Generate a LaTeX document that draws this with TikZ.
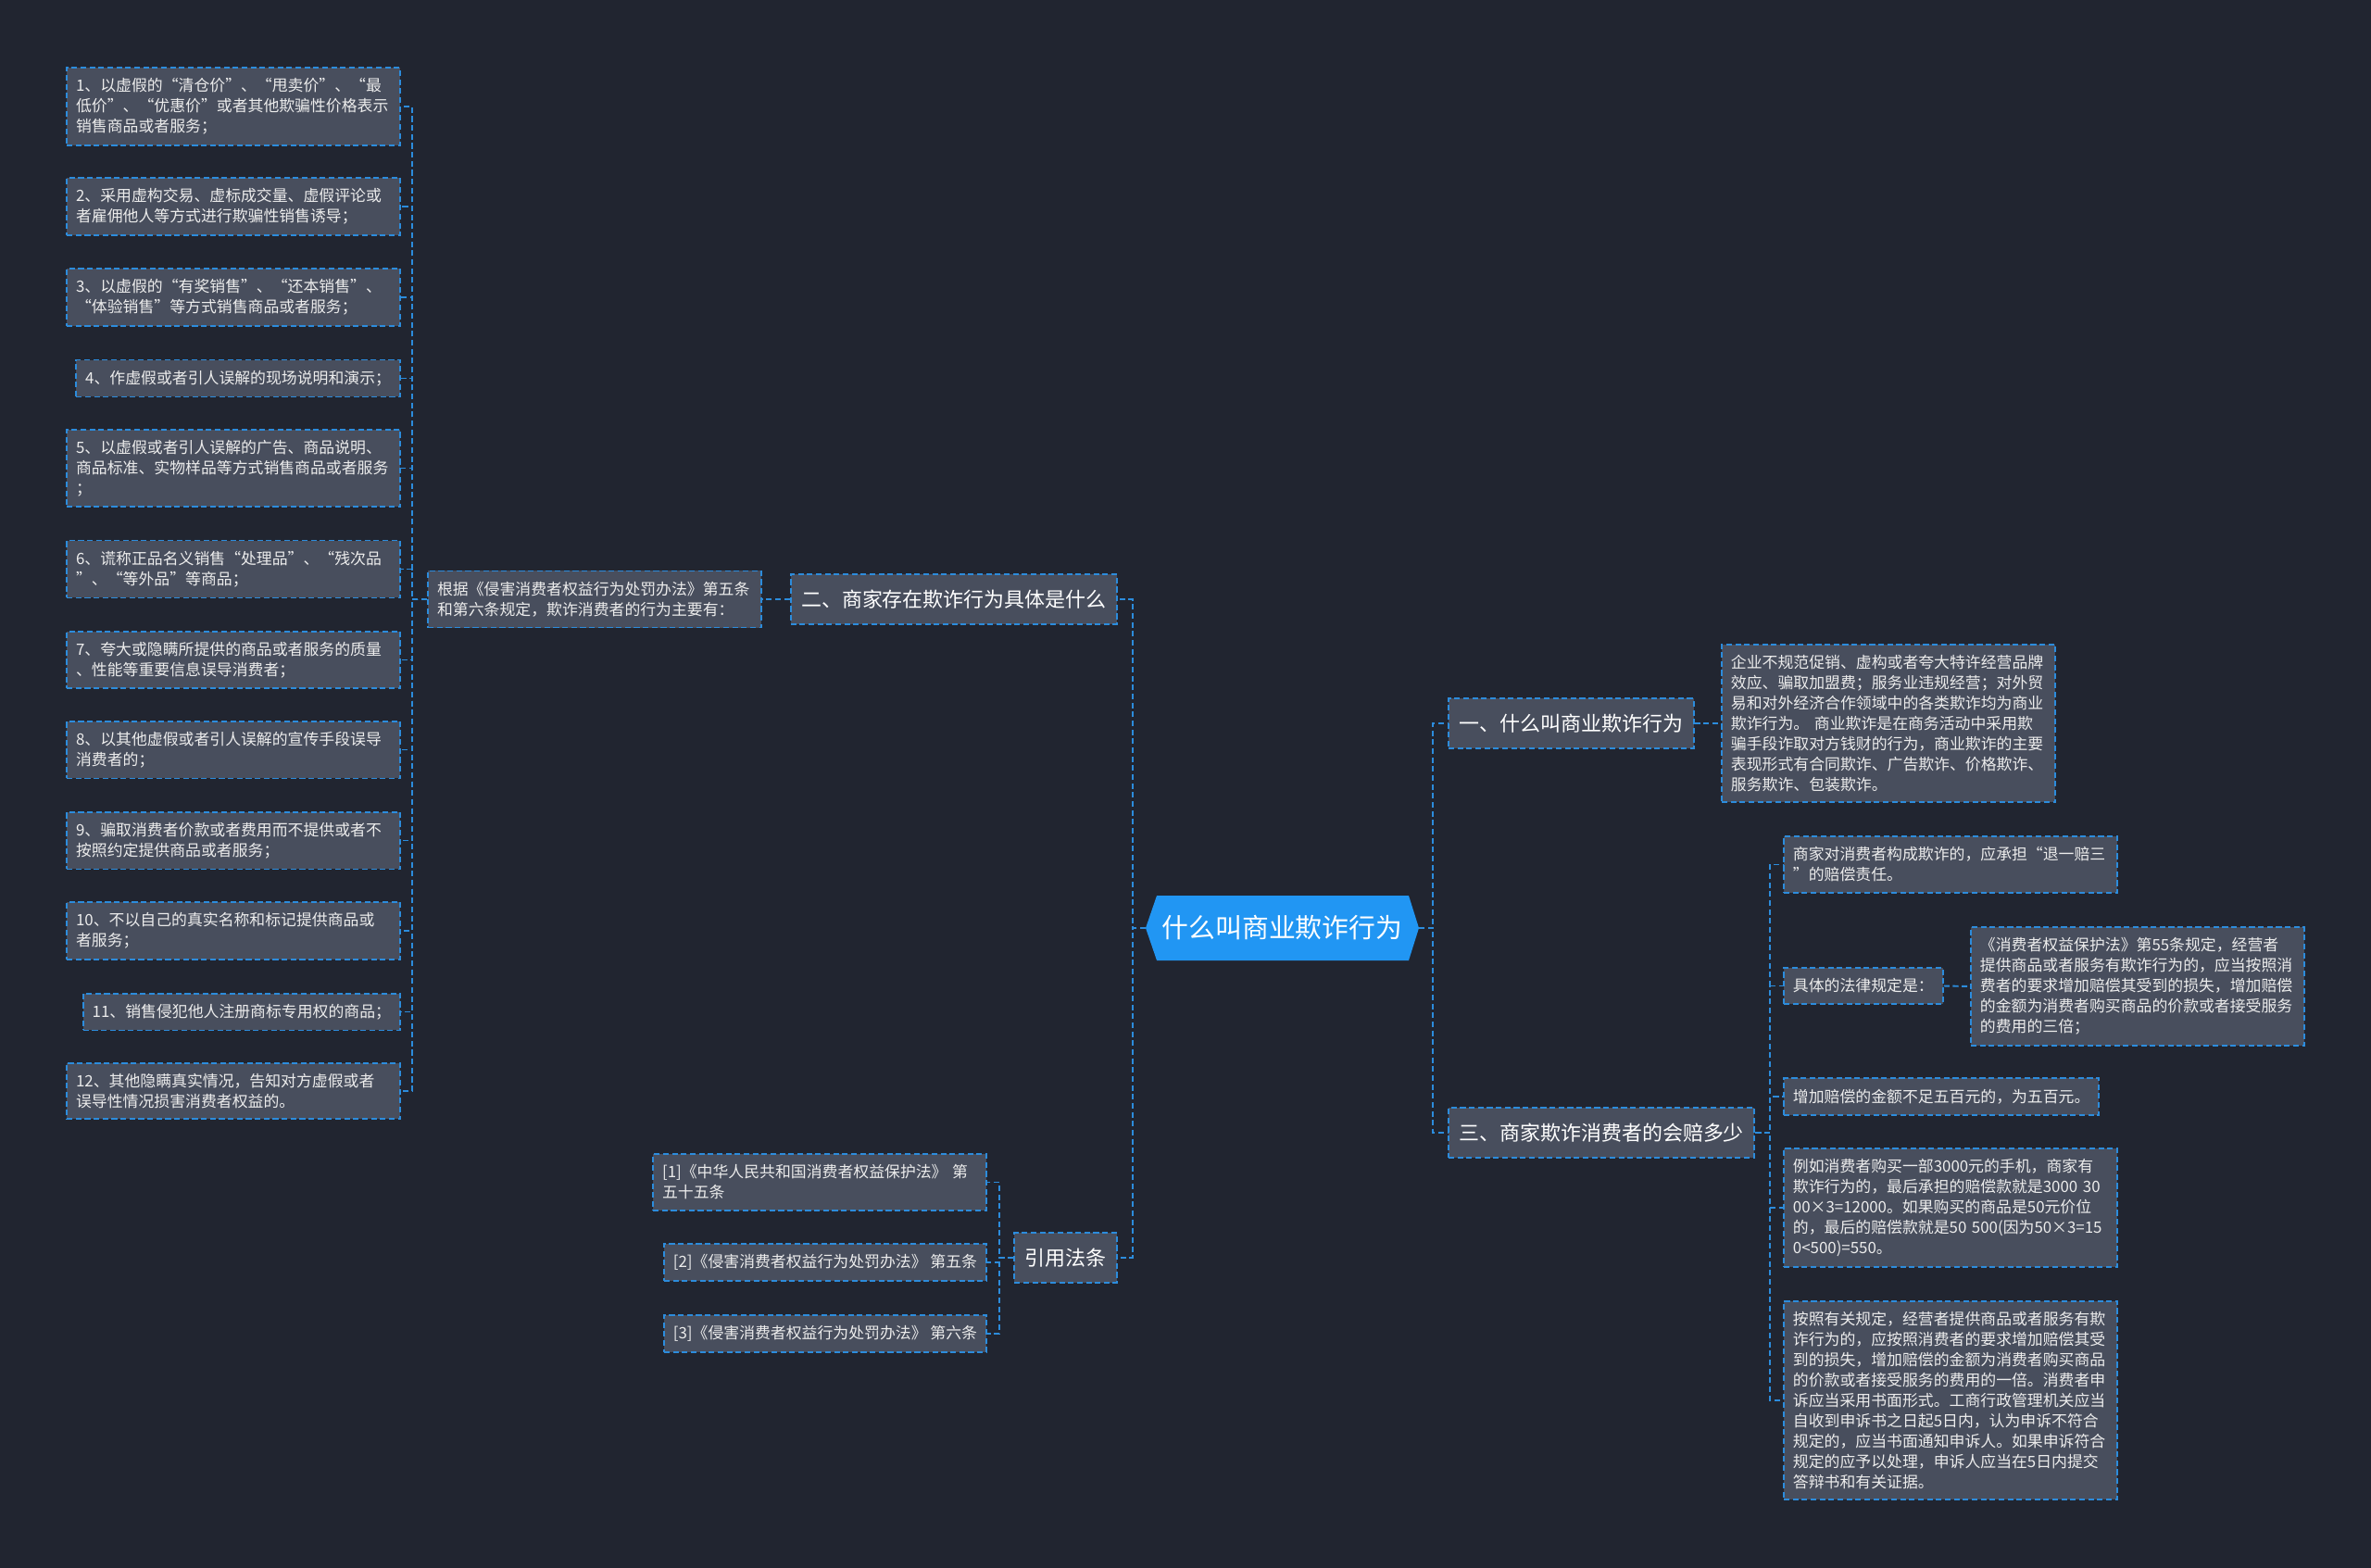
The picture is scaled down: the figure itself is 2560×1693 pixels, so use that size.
\documentclass[tikz,border=0pt]{standalone}
\usepackage{fontspec}
\setmainfont{Noto Sans CJK SC}

\definecolor{bgdark}{RGB}{33,37,48}
\definecolor{boxgray}{RGB}{72,78,93}
\definecolor{linkblue}{RGB}{44,140,220}
\definecolor{rootblue}{RGB}{33,150,243}
\definecolor{leaftext}{RGB}{236,236,236}

\tikzset{
  box/.style={draw=linkblue, fill=boxgray, line width=1.1pt, dash pattern=on 3.5pt off 2pt, align=left},
  leaf/.style={box, text=leaftext, font=\fontsize{9.6}{12.5}\selectfont, inner xsep=0.2cm, inner ysep=0.23cm},
  widebox/.style={text width=6.8cm},
  branch/.style={box, text=white, font=\fontsize{12.5}{15}\selectfont, inner xsep=0.23cm, inner ysep=0.33cm},
  rootnode/.style={text=white, font=\fontsize{16.4}{20}\selectfont, minimum width=5.9cm, minimum height=1.4cm, inner sep=0pt},
  link/.style={linkblue, line width=1.1pt, dash pattern=on 3.5pt off 2pt},
}

\begin{document}
\begin{tikzpicture}[x=0.02cm, y=-0.02cm]

  % --- Background ---
  \fill[bgdark] (0,0) rectangle (2560,1693);
  \useasboundingbox (0,0) rectangle (2560,1693);

  % --- Root ---
  \coordinate (rc) at (1384.5,1002);
  \fill[rootblue] (rc) ++(-147.5,0) -- ++(12,-35) -- ++(272,0) -- ++(11,35) -- ++(-11,35) -- ++(-272,0) -- cycle;
  \node[rootnode] (root) at (rc) {什么叫商业欺诈行为};

  % --- Branches ---
  \node[branch, anchor=east] (two) at (1207,647) {二、商家存在欺诈行为具体是什么};
  \node[branch, anchor=east] (cite) at (1207,1358) {引用法条};
  \node[branch, anchor=west] (one) at (1563,781) {一、什么叫商业欺诈行为};
  \node[branch, anchor=west] (three) at (1563,1223) {三、商家欺诈消费者的会赔多少};

  % --- Part two ---
  \node[leaf, widebox, anchor=east] (basis) at (823,647) {根据《侵害消费者权益行为处罚办法》第五条\\和第六条规定，欺诈消费者的行为主要有：};
  \node[leaf, widebox, anchor=east] (p1) at (433,115) {1、以虚假的“清仓价”、“甩卖价”、“最\\低价”、“优惠价”或者其他欺骗性价格表示\\销售商品或者服务；};
  \node[leaf, widebox, anchor=east] (p2) at (433,223) {2、采用虚构交易、虚标成交量、虚假评论或\\者雇佣他人等方式进行欺骗性销售诱导；};
  \node[leaf, widebox, anchor=east] (p3) at (433,321) {3、以虚假的“有奖销售”、“还本销售”、\\“体验销售”等方式销售商品或者服务；};
  \node[leaf, anchor=east] (p4) at (433,408.5) {4、作虚假或者引人误解的现场说明和演示；};
  \node[leaf, widebox, anchor=east] (p5) at (433,505.5) {5、以虚假或者引人误解的广告、商品说明、\\商品标准、实物样品等方式销售商品或者服务\\；};
  \node[leaf, widebox, anchor=east] (p6) at (433,614.5) {6、谎称正品名义销售“处理品”、“残次品\\”、“等外品”等商品；};
  \node[leaf, widebox, anchor=east] (p7) at (433,712.5) {7、夸大或隐瞒所提供的商品或者服务的质量\\、性能等重要信息误导消费者；};
  \node[leaf, widebox, anchor=east] (p8) at (433,809.5) {8、以其他虚假或者引人误解的宣传手段误导\\消费者的；};
  \node[leaf, widebox, anchor=east] (p9) at (433,907.5) {9、骗取消费者价款或者费用而不提供或者不\\按照约定提供商品或者服务；};
  \node[leaf, widebox, anchor=east] (p10) at (433,1005) {10、不以自己的真实名称和标记提供商品或\\者服务；};
  \node[leaf, anchor=east] (p11) at (433,1092.5) {11、销售侵犯他人注册商标专用权的商品；};
  \node[leaf, widebox, anchor=east] (p12) at (433,1178) {12、其他隐瞒真实情况，告知对方虚假或者\\误导性情况损害消费者权益的。};

  % --- Part one ---
  \node[leaf, widebox, anchor=west] (firm) at (1858,781) {企业不规范促销、虚构或者夸大特许经营品牌\\效应、骗取加盟费；服务业违规经营；对外贸\\易和对外经济合作领域中的各类欺诈均为商业\\欺诈行为。~商业欺诈是在商务活动中采用欺\\骗手段诈取对方钱财的行为，商业欺诈的主要\\表现形式有合同欺诈、广告欺诈、价格欺诈、\\服务欺诈、包装欺诈。};

  % --- Part three ---
  \node[leaf, widebox, anchor=west] (c1) at (1925,933.5) {商家对消费者构成欺诈的，应承担“退一赔三\\”的赔偿责任。};
  \node[leaf, anchor=west] (c2) at (1925,1064.5) {具体的法律规定是：};
  \node[leaf, widebox, anchor=west] (law) at (2127,1065) {《消费者权益保护法》第55条规定，经营者\\提供商品或者服务有欺诈行为的，应当按照消\\费者的要求增加赔偿其受到的损失，增加赔偿\\的金额为消费者购买商品的价款或者接受服务\\的费用的三倍；};
  \node[leaf, anchor=west] (c3) at (1925,1184) {增加赔偿的金额不足五百元的，为五百元。};
  \node[leaf, widebox, anchor=west] (c4) at (1925,1304) {例如消费者购买一部3000元的手机，商家有\\欺诈行为的，最后承担的赔偿款就是3000~30\\00×3=12000。如果购买的商品是50元价位\\的，最后的赔偿款就是50~500(因为50×3=15\\0<500)=550。};
  \node[leaf, widebox, anchor=west] (c5) at (1925,1512) {按照有关规定，经营者提供商品或者服务有欺\\诈行为的，应按照消费者的要求增加赔偿其受\\到的损失，增加赔偿的金额为消费者购买商品\\的价款或者接受服务的费用的一倍。消费者申\\诉应当采用书面形式。工商行政管理机关应当\\自收到申诉书之日起5日内，认为申诉不符合\\规定的，应当书面通知申诉人。如果申诉符合\\规定的应予以处理，申诉人应当在5日内提交\\答辩书和有关证据。};

  % --- Citations ---
  \node[leaf, widebox, anchor=east] (r1) at (1066,1276.5) {[1]《中华人民共和国消费者权益保护法》~第\\五十五条};
  \node[leaf, anchor=east] (r2) at (1066,1363) {[2]《侵害消费者权益行为处罚办法》~第五条};
  \node[leaf, anchor=east] (r3) at (1066,1440) {[3]《侵害消费者权益行为处罚办法》~第六条};

  % --- Links ---
  \draw[link] (root.west) -- ++(-14,0) |- (two.east);
  \draw[link] (root.west) -- ++(-14,0) |- (cite.east);
  \draw[link] (root.east) -- ++(15,0) |- (one.west);
  \draw[link] (root.east) -- ++(15,0) |- (three.west);
  \draw[link] (two.west) -- (basis.east);
  \foreach \i in {1,...,12} \draw[link] (basis.west) -- ++(-16,0) |- (p\i.east);
  \draw[link] (one.east) -- (firm.west);
  \foreach \n in {c1,c2,c3,c4,c5} \draw[link] (three.east) -- ++(16,0) |- (\n.west);
  \draw[link] (c2.east) -- (law.west);
  \foreach \i in {1,2,3} \draw[link] (cite.west) -- ++(-15,0) |- (r\i.east);

\end{tikzpicture}
\end{document}
